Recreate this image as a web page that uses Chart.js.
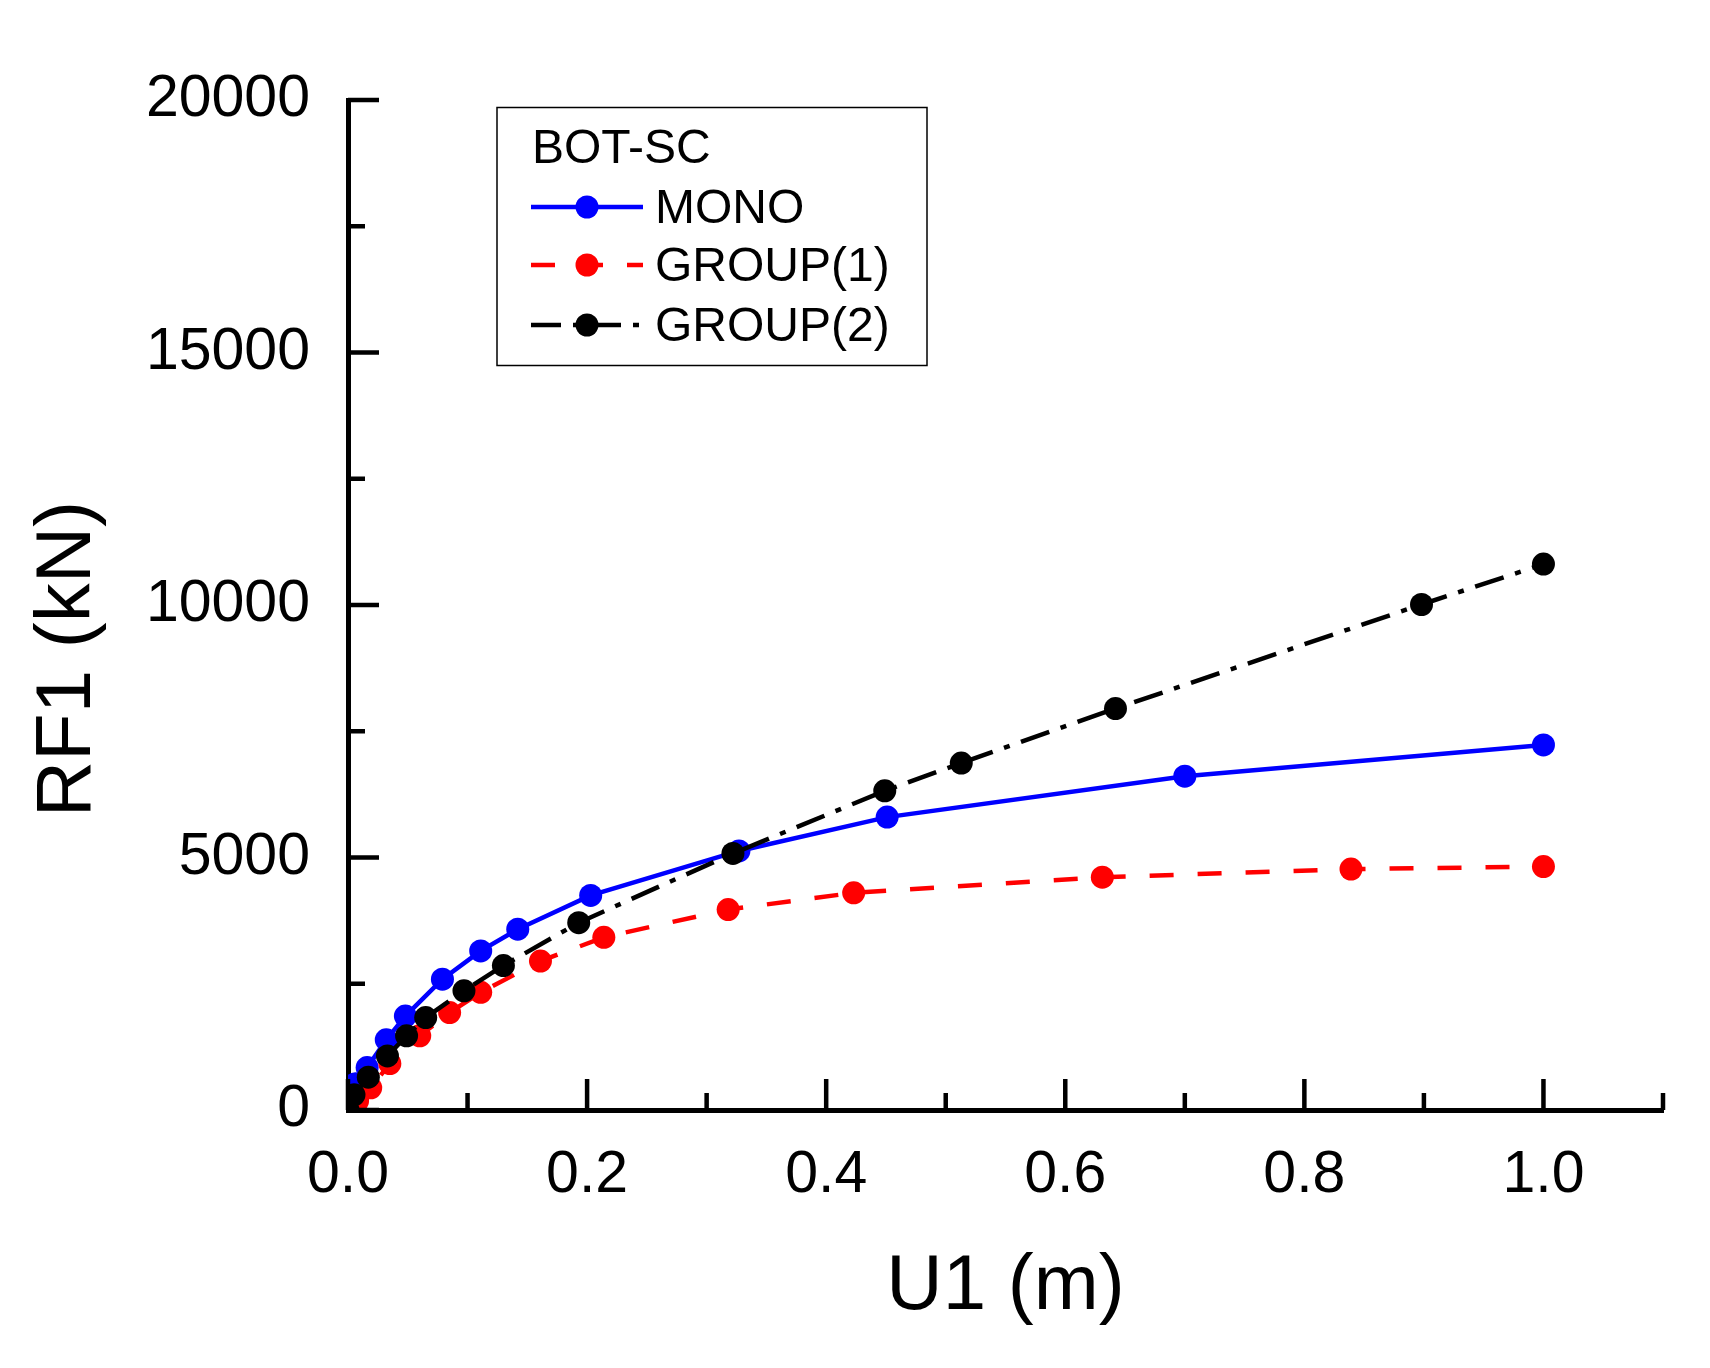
<!DOCTYPE html>
<html>
<head>
<meta charset="utf-8">
<script src="https://cdn.jsdelivr.net/npm/chart.js@4.4.1/dist/chart.umd.min.js"></script>
<style>
    html, body { margin: 0; padding: 0; background: #fff; }
    #wrap { width: 1710px; height: 1368px; }
</style>
</head>
<body>
<div id="wrap"><canvas id="chart" width="1710" height="1368"></canvas></div>
<script>
// U1 (m) / RF1 (kN)
const monoU = [0, 0.006, 0.016, 0.032, 0.048, 0.079, 0.111, 0.142, 0.203, 0.327, 0.451, 0.700, 1.0];
const monoRF = [0, 520, 840, 1390, 1860, 2590, 3150, 3580, 4250, 5130, 5800, 6610, 7230];

const group1U = [0, 0.008, 0.019, 0.035, 0.060, 0.085, 0.111, 0.161, 0.214, 0.318, 0.423, 0.631, 0.839, 1.0];
const group1RF = [0, 180, 440, 920, 1470, 1930, 2330, 2950, 3420, 3970, 4300, 4610, 4770, 4820];

const group2U = [0, 0.005, 0.017, 0.033, 0.049, 0.065, 0.097, 0.130, 0.193, 0.322, 0.449, 0.513, 0.642, 0.898, 1.0];
const group2RF = [0, 300, 650, 1070, 1470, 1830, 2360, 2860, 3710, 5080, 6320, 6870, 7950, 10010, 10810];

const seriesNames = ['MONO', 'GROUP(1)', 'GROUP(2)'];
const legendTitle = 'BOT-SC';

// tick positions (labels come from major ones)
const xMajor = [0, 0.2, 0.4, 0.6, 0.8, 1.0];
const xMinor = [0.1, 0.3, 0.5, 0.7, 0.9, 1.1];
const yMajor = [0, 5000, 10000, 15000, 20000];
const yMinor = [2500, 7500, 12500, 17500];

const FONT = '"Liberation Sans", Arial, sans-serif';

function pts(xs, ys) {
    return xs.map((x, i) => ({x: x, y: ys[i]}));
}

// inward tick marks like the original plot
const axisTicks = {
    id: 'axisTicks',
    afterDatasetsDraw(chart) {
        const ctx = chart.ctx;
        const sx = chart.scales.x, sy = chart.scales.y;
        const left = chart.chartArea.left, bottom = chart.chartArea.bottom;
        ctx.save();
        ctx.strokeStyle = '#000';
        ctx.lineWidth = 4.5;
        ctx.beginPath();
        xMajor.forEach(v => { const p = sx.getPixelForValue(v); ctx.moveTo(p, bottom); ctx.lineTo(p, bottom - 31); });
        xMinor.forEach(v => { const p = sx.getPixelForValue(v); ctx.moveTo(p, bottom); ctx.lineTo(p, bottom - 17); });
        yMajor.forEach(v => { const p = sy.getPixelForValue(v); ctx.moveTo(left, p); ctx.lineTo(left + 31, p); });
        yMinor.forEach(v => { const p = sy.getPixelForValue(v); ctx.moveTo(left, p); ctx.lineTo(left + 17, p); });
        ctx.stroke();
        ctx.restore();
    }
};

// boxed legend inside the plot area
const legendBox = {
    id: 'legendBox',
    afterDraw(chart) {
        const ctx = chart.ctx;
        ctx.save();
        ctx.strokeStyle = '#000';
        ctx.lineWidth = 1.5;
        ctx.strokeRect(497, 107.5, 430, 258);
        ctx.fillStyle = '#000';
        ctx.font = '48px ' + FONT;
        ctx.textBaseline = 'middle';
        ctx.fillText(legendTitle, 532, 150);
        const rows = [207, 265, 325];
        chart.data.datasets.forEach((ds, i) => {
            const yy = rows[i];
            ctx.strokeStyle = ds.borderColor;
            ctx.lineWidth = ds.borderWidth;
            ctx.setLineDash(ds.borderDash || []);
            ctx.beginPath();
            ctx.moveTo(531, yy);
            ctx.lineTo(643, yy);
            ctx.stroke();
            ctx.setLineDash([]);
            ctx.fillStyle = ds.pointBackgroundColor;
            ctx.beginPath();
            ctx.arc(587, yy, ds.pointRadius, 0, Math.PI * 2);
            ctx.fill();
            ctx.fillStyle = '#000';
            ctx.fillText(ds.label, 655, yy + 3);
        });
        ctx.restore();
    }
};

const chart = new Chart(document.getElementById('chart').getContext('2d'), {
    type: 'scatter',
    data: {
        datasets: [{
            label: seriesNames[0],
            data: pts(monoU, monoRF),
            showLine: true,
            borderColor: '#0000ff',
            backgroundColor: '#0000ff',
            pointBackgroundColor: '#0000ff',
            pointBorderWidth: 0,
            pointRadius: 11.5,
            borderWidth: 4.5,
            order: 2
        }, {
            label: seriesNames[1],
            data: pts(group1U, group1RF),
            showLine: true,
            borderColor: '#ff0000',
            backgroundColor: '#ff0000',
            pointBackgroundColor: '#ff0000',
            pointBorderWidth: 0,
            pointRadius: 11.5,
            borderWidth: 4.5,
            borderDash: [24, 24],
            order: 1
        }, {
            label: seriesNames[2],
            data: pts(group2U, group2RF),
            showLine: true,
            borderColor: '#000000',
            backgroundColor: '#000000',
            pointBackgroundColor: '#000000',
            pointBorderWidth: 0,
            pointRadius: 11.5,
            borderWidth: 4.5,
            borderDash: [30, 12, 6, 12],
            order: 0
        }]
    },
    options: {
        responsive: false,
        animation: false,
        events: [],
        layout: {padding: {top: 100, right: 47, left: 0, bottom: 0}},
        plugins: {
            legend: {display: false},
            tooltip: {enabled: false}
        },
        scales: {
            x: {
                type: 'linear',
                min: 0,
                max: 1.1,
                grid: {display: false, drawTicks: false},
                border: {display: true, color: '#000', width: 5},
                ticks: {
                    stepSize: 0.2,
                    includeBounds: false,
                    padding: 30,
                    color: '#000',
                    maxRotation: 0,
                    autoSkip: false,
                    font: {family: FONT, size: 59},
                    callback: v => v.toFixed(1)
                },
                title: {
                    display: true,
                    text: 'U1 (m)',
                    color: '#000',
                    font: {family: FONT, size: 78, lineHeight: 1},
                    padding: {top: 0, bottom: 42}
                },
                afterFit: s => { s.height = 258; }
            },
            y: {
                type: 'linear',
                min: 0,
                max: 20000,
                grid: {display: false, drawTicks: false},
                border: {display: true, color: '#000', width: 5},
                ticks: {
                    stepSize: 5000,
                    padding: 38,
                    color: '#000',
                    font: {family: FONT, size: 59},
                    callback: v => String(v)
                },
                title: {
                    display: true,
                    text: 'RF1 (kN)' + '\u00a0'.repeat(5),
                    color: '#000',
                    font: {family: FONT, size: 78, lineHeight: 1},
                    padding: {top: 29, bottom: 0}
                },
                afterFit: s => { s.width = 348; }
            }
        }
    },
    plugins: [axisTicks, legendBox]
});
</script>
</body>
</html>
